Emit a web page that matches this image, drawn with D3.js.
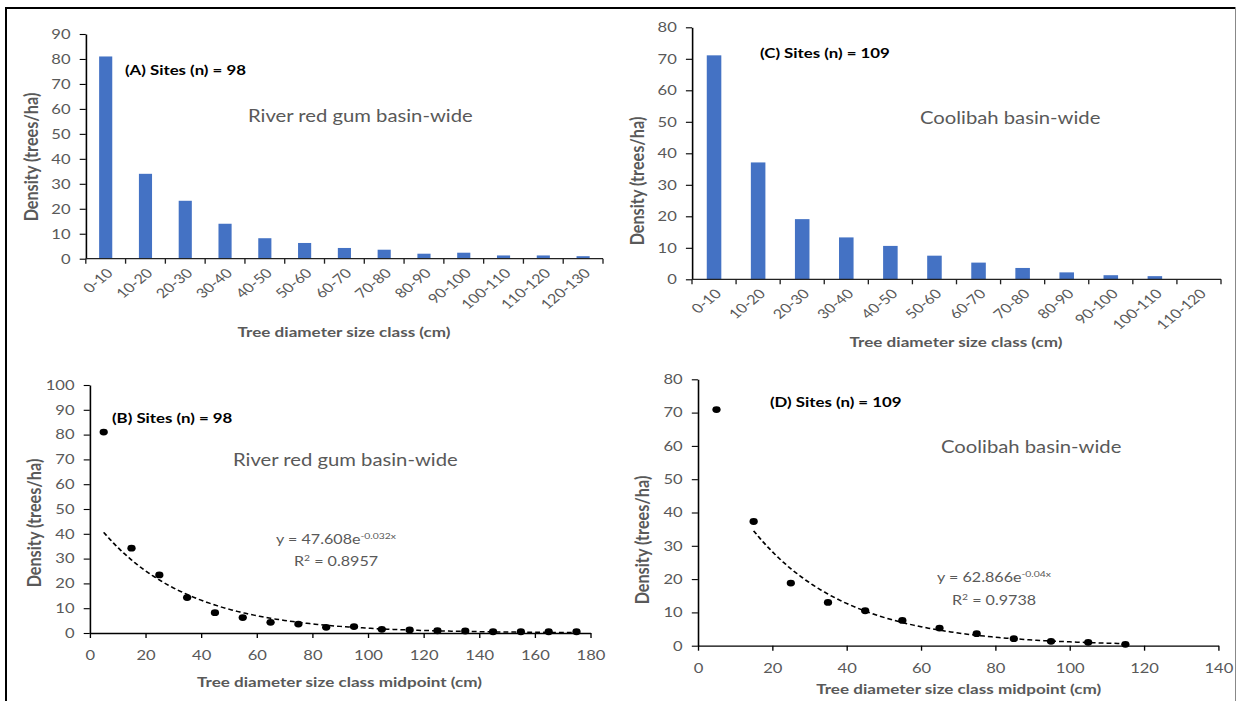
<!DOCTYPE html>
<html><head><meta charset="utf-8">
<script src="https://cdn.jsdelivr.net/npm/d3@7"></script>
<style>
html,body{margin:0;padding:0;background:#fff;}
svg{display:block;font-family:Lato, "Open Sans", sans-serif;}
</style></head>
<body>
<svg id="chart" width="1240" height="701"></svg>
<script>
// ---------------- data ----------------
const rrgClasses = ["0-10","10-20","20-30","30-40","40-50","50-60","60-70","70-80","80-90","90-100","100-110","110-120","120-130"];
const rrgDensity = [81, 34, 23.2, 14, 8.2, 6.3, 4.3, 3.6, 2.0, 2.4, 1.3, 1.3, 1.0];
const coolClasses = ["0-10","10-20","20-30","30-40","40-50","50-60","60-70","70-80","80-90","90-100","100-110","110-120"];
const coolDensity = [71.1, 37.1, 19.1, 13.3, 10.6, 7.5, 5.3, 3.6, 2.2, 1.3, 1.0, 0];
const rrgMid = [5,15,25,35,45,55,65,75,85,95,105,115,125,135,145,155,165,175];
const rrgMidDensity = [81, 34.2, 23.4, 14.3, 8.2, 6.2, 4.3, 3.6, 2.3, 2.6, 1.5, 1.2, 0.9, 0.8, 0.5, 0.5, 0.5, 0.5];
const coolMid = [5,15,25,35,45,55,65,75,85,95,105,115];
const coolMidDensity = [70.9, 37.3, 18.8, 13.0, 10.5, 7.6, 5.3, 3.6, 2.1, 1.3, 1.0, 0.4];
// trend lines: [a, b, xStart, xEnd]  y = a*exp(b*x)
const rrgFit = [47.608, -0.032, 5, 175];
const coolFit = [62.866, -0.04, 15, 115];
const yTicksA = [0,10,20,30,40,50,60,70,80,90];
const yTicksB = [0,10,20,30,40,50,60,70,80,90,100];
const yTicksCD = [0,10,20,30,40,50,60,70,80];
const xTicksB = [0,20,40,60,80,100,120,140,160,180];
const xTicksD = [0,20,40,60,80,100,120,140];

// ---------------- layout ----------------
const SX = 1.22;             // horizontal stretch of the reference picture
const X = px => px / SX;
const GREY = "#595959";
const BLUE = "#4472C4";

const svg = d3.select("#chart");
// frame
svg.append("line").attr("x1",6).attr("x2",6).attr("y1",7).attr("y2",701).attr("stroke","#000").attr("stroke-width",2);
svg.append("line").attr("x1",5).attr("x2",1236).attr("y1",8).attr("y2",8).attr("stroke","#000").attr("stroke-width",2);
svg.append("line").attr("x1",1235.5).attr("x2",1235.5).attr("y1",7).attr("y2",701).attr("stroke","#888").attr("stroke-width",1);

const root = svg.append("g").attr("transform", `scale(${SX},1)`);

function styleAxis(g){
  g.select(".domain").attr("stroke","#000").attr("stroke-width",1.3);
  g.selectAll(".tick line").attr("stroke","#000").attr("stroke-width",1.1);
  g.selectAll(".tick text").attr("fill",GREY).attr("font-size",13.6).attr("font-family","Lato, sans-serif");
}

function yAxis(y, x0, ticks){
  const g = root.append("g").attr("transform",`translate(${X(x0)},0)`)
    .call(d3.axisLeft(y).tickValues(ticks).tickSize(5).tickPadding(7.5).tickSizeOuter(0));
  styleAxis(g);
}

function text(x, y, str, opt){
  const t = root.append("text").attr("x", X(x)).attr("y", y).text(str)
    .attr("fill", opt.fill || GREY).attr("font-size", opt.size || 15)
    .attr("font-weight", opt.bold ? "bold" : "normal")
    .attr("text-anchor", opt.anchor || "start");
  return t;
}
function yTitle(cx, cy, str){
  root.append("text").attr("transform",`translate(${X(cx)},${cy}) rotate(-90)`)
    .attr("text-anchor","middle").attr("dominant-baseline","central")
    .attr("fill",GREY).attr("font-size",16.2).attr("font-weight","bold").text(str);
}

function barPanel(p){
  const x = d3.scaleBand().domain(p.cats).range([X(p.x0), X(p.x1)]).paddingInner(0.67).paddingOuter(0.335);
  const y = d3.scaleLinear().domain([0, p.ymax]).range([p.y0, p.y1]);
  root.append("g").selectAll("rect").data(p.vals).join("rect")
    .attr("x",(d,i)=>x(p.cats[i])).attr("width",x.bandwidth())
    .attr("y",d=>y(d)).attr("height",d=>y(0)-y(d)).attr("fill",BLUE);
  yAxis(y, p.x0, p.yticks);
  // x axis with boundary ticks
  const step = x.step();
  const g = root.append("g");
  g.append("line").attr("x1",X(p.x0)).attr("x2",X(p.x1)).attr("y1",p.y0).attr("y2",p.y0)
    .attr("stroke","#222").attr("stroke-width",1.3);
  const bounds = d3.range(p.cats.length+1);
  g.selectAll("line.tk").data(bounds).join("line").attr("class","tk")
    .attr("x1",i=>X(p.x0)+i*step).attr("x2",i=>X(p.x0)+i*step)
    .attr("y1",p.y0).attr("y2",p.y0+5).attr("stroke","#222").attr("stroke-width",1.1);
  g.selectAll("text").data(p.cats).join("text")
    .attr("transform",d=>`translate(${x(d)+x.bandwidth()/2+3.5},${p.y0+12}) rotate(-45)`)
    .attr("text-anchor","end").attr("dy","0.35em")
    .attr("fill",GREY).attr("font-size",13.2).text(d=>d);
}

function scatterPanel(p){
  const x = d3.scaleLinear().domain([0,p.xmax]).range([X(p.x0), X(p.x1)]);
  const y = d3.scaleLinear().domain([0,p.ymax]).range([p.y0, p.y1]);
  yAxis(y, p.x0, p.yticks);
  const gx = root.append("g").attr("transform",`translate(0,${p.y0})`)
    .call(d3.axisBottom(x).tickValues(p.xticks).tickSize(5).tickPadding(12.5).tickSizeOuter(0));
  styleAxis(gx);
  const [a,b,xs,xe] = p.fit;
  const pts = d3.range(xs, xe+0.001, 1).map(v=>[v, a*Math.exp(b*v)]);
  root.append("path").datum(pts)
    .attr("d", d3.line().x(d=>x(d[0])).y(d=>y(d[1])))
    .attr("fill","none").attr("stroke","#000").attr("stroke-width",1.5).attr("stroke-dasharray","4,2.5");
  root.append("g").selectAll("circle").data(p.vals).join("circle")
    .attr("cx",(d,i)=>x(p.xs[i])).attr("cy",d=>y(d)).attr("r",3.4).attr("fill","#000");
}

// Panel A
barPanel({cats:rrgClasses, vals:rrgDensity, x0:85.8, x1:603, y0:258.7, y1:34, ymax:90, yticks:yTicksA});
text(125, 75, "(A) Sites (n) = 98", {bold:true, fill:"#000", size:13.8});
text(248, 122, "River red gum basin-wide", {size:16.6});
yTitle(30, 157, "Density (trees/ha)");
text(344, 337, "Tree diameter size class (cm)", {bold:true, size:14, anchor:"middle"});

// Panel C
barPanel({cats:coolClasses, vals:coolDensity, x0:692, x1:1221, y0:279.3, y1:27.3, ymax:80, yticks:yTicksCD});
text(760, 58, "(C) Sites (n) = 109", {bold:true, fill:"#000", size:13.8});
text(920, 124, "Coolibah basin-wide", {size:16.6});
yTitle(636, 181, "Density (trees/ha)");
text(956, 347, "Tree diameter size class (cm)", {bold:true, size:14, anchor:"middle"});

// Panel B
scatterPanel({xs:rrgMid, vals:rrgMidDensity, fit:rrgFit, x0:89.8, x1:590.4, y0:633, y1:385, xmax:180, ymax:100, yticks:yTicksB, xticks:xTicksB});
text(112, 423, "(B) Sites (n) = 98", {bold:true, fill:"#000", size:13.8});
text(233, 466, "River red gum basin-wide", {size:16.6});
let t = text(336, 544, "y = 47.608e", {size:13.2, anchor:"middle"});
t.append("tspan").attr("dy",-5).attr("font-size",8.5).text("-0.032x");
t = text(336, 566, "R", {size:13.2, anchor:"middle"});
t.append("tspan").attr("dy",-5).attr("font-size",8.5).text("2");
t.append("tspan").attr("dy",5).text(" = 0.8957");
yTitle(33, 523, "Density (trees/ha)");
text(339.5, 687, "Tree diameter size class midpoint (cm)", {bold:true, size:14, anchor:"middle"});

// Panel D
scatterPanel({xs:coolMid, vals:coolMidDensity, fit:coolFit, x0:697.9, x1:1218.3, y0:645.7, y1:379.3, xmax:140, ymax:80, yticks:yTicksCD, xticks:xTicksD});
text(770, 407, "(D) Sites (n) = 109", {bold:true, fill:"#000", size:13.8});
text(941, 453, "Coolibah basin-wide", {size:16.6});
t = text(994, 582, "y = 62.866e", {size:13.2, anchor:"middle"});
t.append("tspan").attr("dy",-5).attr("font-size",8.5).text("-0.04x");
t = text(994, 605, "R", {size:13.2, anchor:"middle"});
t.append("tspan").attr("dy",-5).attr("font-size",8.5).text("2");
t.append("tspan").attr("dy",5).text(" = 0.9738");
yTitle(641, 540, "Density (trees/ha)");
text(958.7, 694, "Tree diameter size class midpoint (cm)", {bold:true, size:14, anchor:"middle"});
</script>
</body></html>
